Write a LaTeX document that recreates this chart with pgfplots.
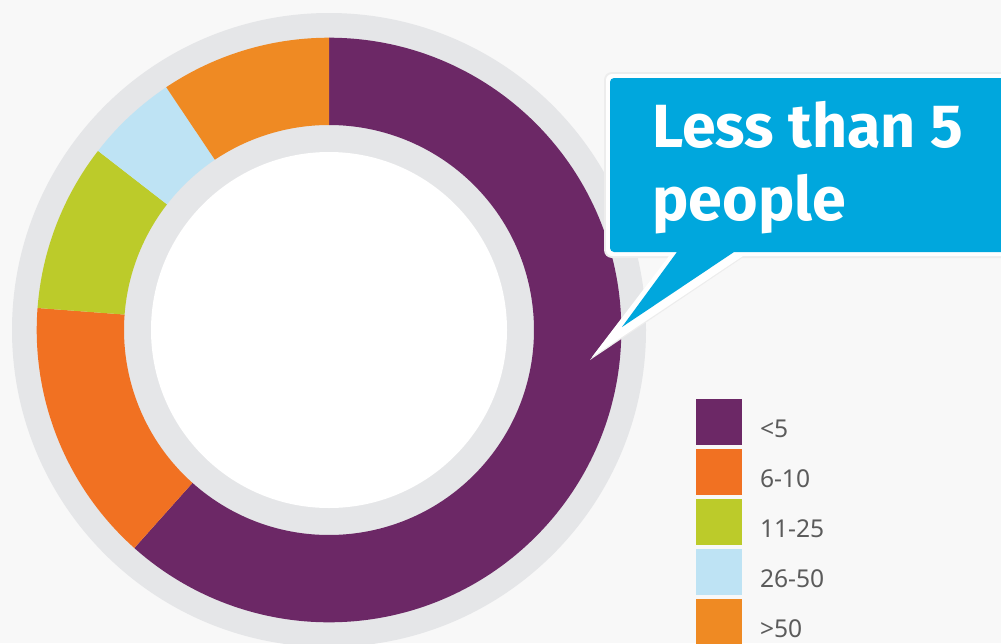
\documentclass[border=0pt]{standalone}
\usepackage{fontspec}
\setmainfont{Noto Sans}
\newfontfamily\calloutfont{Fira Sans}
\usepackage{pgfplots}
\usepackage{pgfplotstable}
\pgfplotsset{compat=1.18}

\definecolor{bg}{HTML}{F8F8F8}
\definecolor{ring}{HTML}{E5E6E8}
\definecolor{cA}{HTML}{6C2866}
\definecolor{cB}{HTML}{F17122}
\definecolor{cC}{HTML}{BCCB2A}
\definecolor{cD}{HTML}{BEE3F4}
\definecolor{cE}{HTML}{EF8A23}
\definecolor{callout}{HTML}{00A7DD}
\definecolor{lgrey}{HTML}{5B5B5B}

% share of respondents (percent), clockwise from 12 o'clock
\pgfplotstableread{
label value colour
{<5} 61.6 cA
{6-10} 14.6 cB
{11-25} 9.3 cC
{26-50} 5.1 cD
{>50} 9.4 cE
}\sizes

% annular sector: colour, start deg (clockwise from top), end deg, inner r, outer r
\newcommand\ann[5]{%
  \pgfmathsetmacro\angA{90-(#2)}\pgfmathsetmacro\angB{90-(#3)}%
  \edef\tmp{\noexpand\fill[#1, shift={(axis cs:329,330)}] (\angA:#5) arc[start angle=\angA, end angle=\angB, radius=#5] -- (\angB:#4) arc[start angle=\angB, end angle=\angA, radius=#4] -- cycle;}\tmp}

\begin{document}
\begin{tikzpicture}
\useasboundingbox (0,0) rectangle (500.5pt,321.5pt);
\fill[bg] (0,0) rectangle (500.5pt,321.5pt);
\begin{axis}[
  at={(0,0)}, anchor=south west, scale only axis,
  width=500.5pt, height=321.5pt,
  xmin=0, xmax=1001, ymin=0, ymax=643, y dir=reverse,
  hide axis, clip=true,
  legend style={at={(0.6953,0.3795)}, anchor=north west, draw=none, fill=none,
    inner sep=0pt, outer sep=0pt, row sep=2pt, column sep=9pt,
    font=\fontsize{12.3}{14}\selectfont,
    nodes={text=lgrey, inner sep=0pt}},
  legend cell align=left,
  legend image code/.code={\fill[#1] (0pt,-7.5pt) rectangle (23pt,15.5pt);},
]
\ann{ring}{0}{360}{0.01pt}{158.5pt}
\ann{white}{0}{360}{0.01pt}{89pt}
\def\sStart{0}
\pgfplotsforeachungrouped \i in {0,...,4}{%
  \pgfplotstablegetelem{\i}{value}\of\sizes \let\vv\pgfplotsretval
  \pgfplotstablegetelem{\i}{colour}\of\sizes \let\cc\pgfplotsretval
  \pgfmathsetmacro\sEnd{\sStart+\vv}%
  \ann{\cc}{\sStart*3.6}{\sEnd*3.6}{102.5pt}{146.15pt}%
  \let\sStart\sEnd}

% callout
\fill[black!7] (axis cs:742,258) -- (axis cs:1012,258) -- (axis cs:1012,72) [rounded corners=4pt] -- (axis cs:604,72) -- (axis cs:604,258) [sharp corners] -- (axis cs:668,258) -- (axis cs:590,360) -- cycle;
\fill[white] (axis cs:743,256) -- (axis cs:1012,256) -- (axis cs:1012,74) [rounded corners=3pt] -- (axis cs:606,74) -- (axis cs:606,256) [sharp corners] -- (axis cs:669,256) -- (axis cs:592,357) -- cycle;
\fill[callout] (axis cs:734,252) -- (axis cs:1012,252) -- (axis cs:1012,78) [rounded corners=2pt] -- (axis cs:610,78) -- (axis cs:610,252) [sharp corners] -- (axis cs:677,252) -- (axis cs:622,327) -- cycle;
\node[anchor=base west, inner sep=0pt, text=white, font=\calloutfont\bfseries\fontsize{30.5}{36}\selectfont] at (axis cs:652,147) {Less than 5};
\node[anchor=base west, inner sep=0pt, text=white, font=\calloutfont\bfseries\fontsize{30.5}{36}\selectfont] at (axis cs:652,220) {people};

\addlegendimage{fill=cA, draw=none}\addlegendentry{<5}
\addlegendimage{fill=cB, draw=none}\addlegendentry{6-10}
\addlegendimage{fill=cC, draw=none}\addlegendentry{11-25}
\addlegendimage{fill=cD, draw=none}\addlegendentry{26-50}
\addlegendimage{fill=cE, draw=none}\addlegendentry{>50}
\end{axis}
\end{tikzpicture}
\end{document}
